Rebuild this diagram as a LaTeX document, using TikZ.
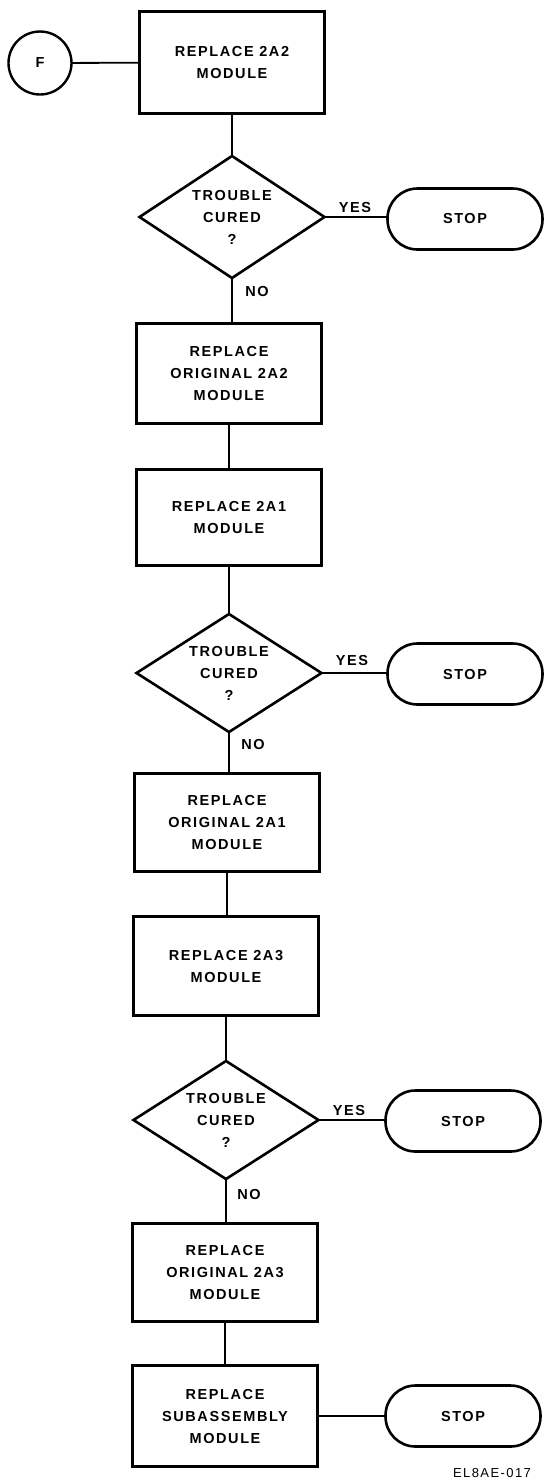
\documentclass[tikz,border=0pt]{standalone}
\usepackage{fontspec}
\setmainfont{Liberation Sans}
\newfontfamily\chartfont[LetterSpace=11]{Liberation Sans}
\usepackage{tikz}
\usetikzlibrary{shapes.geometric}

\begin{document}
\begin{tikzpicture}[x=1pt, y=-1pt, outer sep=0pt, every node/.style={inner sep=0pt, align=center, font=\chartfont\bfseries\fontsize{14.5}{22}\selectfont},
    process/.style={draw, rectangle, line width=2.8pt, minimum width=185pt},
    decision/.style={draw, diamond, shape aspect=1.6, line width=2.6pt, minimum width=185pt, minimum height=122pt},
    terminal/.style={draw, rectangle, rounded corners=30pt, line width=2.6pt, minimum width=155pt, minimum height=61pt},
    entry/.style={draw, circle, line width=2.4pt, minimum size=63pt},
    flow/.style={line width=1.8pt}]
        \useasboundingbox (0,0) rectangle (546,1484);

        \node (entryF) [entry] at (40,63) {F};
        \node (repl2A2) [process, minimum height=102pt] at (232,62.5) {REPLACE 2A2\\MODULE};
        \node (cured1) [decision] at (232,217) {TROUBLE\\CURED\\?};
        \node (stop1) [terminal] at (465,219) {STOP};
        \node (yes1) at (355,208) {YES};
        \node (no1) at (257,292) {NO};

        \node (orig2A2) [process, minimum height=100pt] at (229,373.5) {REPLACE\\ORIGINAL 2A2\\MODULE};
        \node (repl2A1) [process, minimum height=96pt] at (229,517.5) {REPLACE 2A1\\MODULE};
        \node (cured2) [decision, minimum height=118pt] at (229,673) {TROUBLE\\CURED\\?};
        \node (stop2) [terminal] at (465,674) {STOP};
        \node (yes2) at (352,660) {YES};
        \node (no2) at (253,744) {NO};

        \node (orig2A1) [process, minimum height=98pt] at (227,822.5) {REPLACE\\ORIGINAL 2A1\\MODULE};
        \node (repl2A3) [process, minimum height=99pt] at (226,966) {REPLACE 2A3\\MODULE};
        \node (cured3) [decision, minimum height=118pt] at (226,1120) {TROUBLE\\CURED\\?};
        \node (stop3) [terminal] at (463,1121) {STOP};
        \node (yes3) at (349,1110) {YES};
        \node (no3) at (249,1194) {NO};

        \node (orig2A3) [process, minimum height=98pt] at (225,1272.5) {REPLACE\\ORIGINAL 2A3\\MODULE};
        \node (replSub) [process, minimum height=101pt] at (225,1416) {REPLACE\\SUBASSEMBLY\\MODULE};
        \node (stop4) [terminal] at (463,1416) {STOP};
        \node (figref) [font=\chartfont\fontsize{13}{15}\selectfont] at (492,1473) {EL8AE-017};

        \draw[flow] (entryF) -- (repl2A2);
        \draw[flow] (repl2A2.south) -- (repl2A2.south |- cured1.north);
        \draw[flow] (cured1.east) -- (cured1.east -| stop1.west);
        \draw[flow] (cured1.south) -- (cured1.south |- orig2A2.north);
        \draw[flow] (orig2A2.south) -- (orig2A2.south |- repl2A1.north);
        \draw[flow] (repl2A1.south) -- (repl2A1.south |- cured2.north);
        \draw[flow] (cured2.east) -- (cured2.east -| stop2.west);
        \draw[flow] (cured2.south) -- (cured2.south |- orig2A1.north);
        \draw[flow] (orig2A1.south) -- (orig2A1.south |- repl2A3.north);
        \draw[flow] (repl2A3.south) -- (repl2A3.south |- cured3.north);
        \draw[flow] (cured3.east) -- (cured3.east -| stop3.west);
        \draw[flow] (cured3.south) -- (cured3.south |- orig2A3.north);
        \draw[flow] (orig2A3.south) -- (orig2A3.south |- replSub.north);
        \draw[flow] (replSub) -- (stop4);
    \end{tikzpicture}
\end{document}
